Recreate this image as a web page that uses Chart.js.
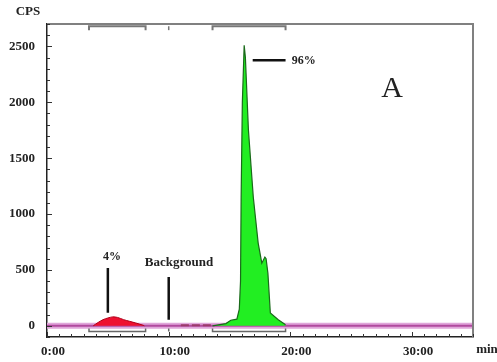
<!DOCTYPE html>
<html><head><meta charset="utf-8">
<script src="https://cdn.jsdelivr.net/npm/chart.js@4.4.1/dist/chart.umd.min.js"></script>
<style>html,body{margin:0;padding:0;background:#fff}#w{width:497px;height:362px}</style>
</head><body><div id="w"><canvas id="c"></canvas></div>
<script>
// ---- data (time in minutes, counts per second) ----
const redTime   = [3.8, 4.2, 4.6, 5.0, 5.4, 5.8, 6.3, 6.8, 7.3, 7.9, 8.0];
const redCps    = [0,   30,  55,  70,  80,  75,  55,  40,  25,  5,   0];
const greenTime = [13.6, 14.7, 15.1, 15.6, 15.8, 15.9, 15.95, 16.05, 16.2, 16.3, 16.55, 16.95, 17.35, 17.65, 17.9, 18.0, 18.15, 18.35, 19.0, 19.6];
const greenCps  = [0,    20,   50,   60,   150,  400,  1150,  2000,  2510, 2400, 1750,  1150,  740,   560,   615,  600,  470,   115,   55,   10];
const baselineTime = [0, 35];
const baselineCps  = [0, 0];
const fractionStart = [3.45, 13.6];
const fractionEnd   = [8.1, 19.6];
const backgroundTime = 10;
const xTickLabels = ['0:00', '10:00', '20:00', '30:00'];
const yTickLabels = [0, 500, 1000, 1500, 2000, 2500];
const peakLabels = ['4%', 'Background', '96%'];

const pts = (xs, ys) => xs.map((x, i) => ({x, y: ys[i]}));
const FONT = "'Liberation Serif','Times New Roman',serif";

const datasets = [];
datasets.push({data: pts(baselineTime, baselineCps), borderColor: '#e0a6da', borderWidth: 6, pointRadius: 0, order: 5});
datasets.push({data: pts(baselineTime, baselineCps), borderColor: '#b04a9e', borderWidth: 2, pointRadius: 0, order: 4});
datasets.push({data: pts([11, 13.6], [5, 5]), borderColor: '#9a3a6a', borderWidth: 2, borderDash: [8, 3], pointRadius: 0, order: 3});
datasets.push({data: pts(redTime, redCps), borderColor: '#b00018', backgroundColor: '#ee1030', borderWidth: 1, fill: 'origin', pointRadius: 0, tension: 0.3, order: 2});
datasets.push({data: pts(greenTime, greenCps), borderColor: '#1a6a1a', backgroundColor: '#22ee22', borderWidth: 1.2, fill: 'origin', pointRadius: 0, tension: 0, order: 1});
// fraction brackets (top and bottom)
fractionStart.forEach((s, i) => {
  const e = fractionEnd[i];
  datasets.push({data: pts([s, s, e, e], [2645, 2680, 2680, 2645]), borderColor: '#777', borderWidth: 2, pointRadius: 0, order: 0});
  datasets.push({data: pts([s, s, e, e], [-25, -50, -50, -25]), borderColor: '#666', borderWidth: 1.5, pointRadius: 0, order: 0});
});
datasets.push({data: pts([backgroundTime, backgroundTime], [2645, 2680]), borderColor: '#777', borderWidth: 1.5, pointRadius: 0});
datasets.push({data: pts([backgroundTime, backgroundTime], [-25, -50]), borderColor: '#666', borderWidth: 1.5, pointRadius: 0});
// annotation pointer lines
datasets.push({data: pts([5.0, 5.0], [518, 116]), borderColor: '#111', borderWidth: 2.5, pointRadius: 0});
datasets.push({data: pts([backgroundTime, backgroundTime], [437, 54]), borderColor: '#111', borderWidth: 2.5, pointRadius: 0});
datasets.push({data: pts([16.9, 19.6], [2375, 2375]), borderColor: '#111', borderWidth: 2.5, pointRadius: 0});

const deco = {
  id: 'deco',
  afterDraw(chart) {
    const {ctx, chartArea: a, scales: {x, y}} = chart;
    ctx.save();
    // top & right frame
    ctx.strokeStyle = '#808080'; ctx.lineWidth = 2;
    ctx.beginPath(); ctx.moveTo(a.left, a.top); ctx.lineTo(a.right, a.top); ctx.lineTo(a.right, a.bottom); ctx.stroke();
    // inward ticks
    ctx.strokeStyle = '#333'; ctx.lineWidth = 1;
    y.ticks.forEach(t => {
      const py = Math.round(y.getPixelForValue(t.value)) + 0.5;
      const len = t.value % 500 === 0 ? 5 : 3;
      ctx.beginPath(); ctx.moveTo(a.left, py); ctx.lineTo(a.left + len, py); ctx.stroke();
    });
    x.ticks.forEach(t => {
      const px = Math.round(x.getPixelForValue(t.value)) + 0.5;
      const len = t.value % 10 === 0 ? 5 : 3;
      ctx.beginPath(); ctx.moveTo(px, a.bottom); ctx.lineTo(px, a.bottom - len); ctx.stroke();
    });
    // texts
    ctx.fillStyle = '#222';
    ctx.font = 'bold 13px ' + FONT;
    ctx.textAlign = 'center'; ctx.textBaseline = 'middle';
    ctx.fillText('CPS', 28, 12);
    ctx.fillText('min', 487, 350);
    ctx.font = 'bold 12px ' + FONT;
    ctx.fillText(peakLabels[0], x.getPixelForValue(5.34), y.getPixelForValue(616));
    ctx.font = 'bold 13px ' + FONT;
    ctx.fillText(peakLabels[1], x.getPixelForValue(10.85), y.getPixelForValue(562));
    ctx.font = 'bold 12px ' + FONT;
    ctx.textAlign = 'left';
    ctx.fillText(peakLabels[2], x.getPixelForValue(20.1), y.getPixelForValue(2370));
    ctx.font = '30px ' + FONT;
    ctx.textAlign = 'center';
    ctx.fillText('A', 392, 89);
    ctx.restore();
  }
};

new Chart(document.getElementById('c'), {
  type: 'line',
  data: {datasets},
  options: {
    responsive: true, maintainAspectRatio: false, animation: false,
    layout: {padding: {top: 24, right: 24, left: 0, bottom: 0}},
    plugins: {legend: {display: false}, tooltip: {enabled: false}},
    scales: {
      x: {
        type: 'linear', min: 0, max: 35,
        afterFit(s) { s.height = 25; },
        grid: {drawOnChartArea: false, drawTicks: false},
        border: {display: true, color: '#222', width: 1.5},
        ticks: {stepSize: 1, autoSkip: false, maxRotation: 0, padding: 7, labelOffset: 6, color: '#222',
          font: {family: FONT, size: 13, weight: 'bold'},
          callback: v => (v % 10 === 0 && xTickLabels[v / 10] !== undefined) ? xTickLabels[v / 10] : ''}
      },
      y: {
        min: -100, max: 2700,
        afterFit(s) { s.width = 47; },
        grid: {drawOnChartArea: false, drawTicks: false},
        border: {display: true, color: '#222', width: 1.5},
        ticks: {stepSize: 100, autoSkip: false, padding: 12, color: '#222',
          font: {family: FONT, size: 13, weight: 'bold'},
          callback: v => yTickLabels.includes(v) ? String(v) : ''}
      }
    }
  },
  plugins: [deco]
});
</script>
</body></html>
